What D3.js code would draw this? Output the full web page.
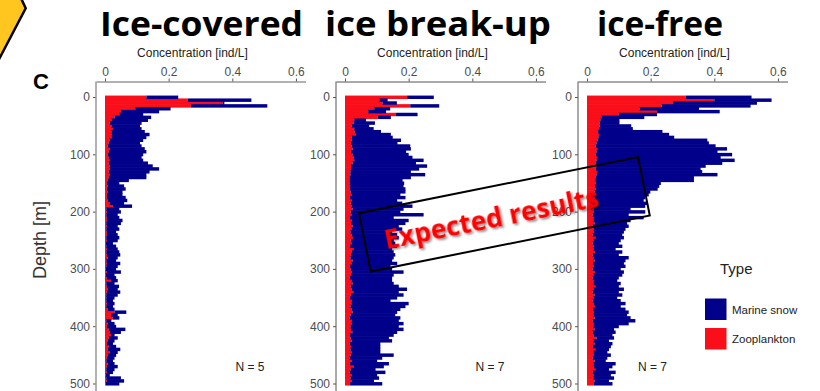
<!DOCTYPE html>
<html><head><meta charset="utf-8">
<script src="https://cdn.jsdelivr.net/npm/d3@7"></script>
<style>body{margin:0;background:#fff}svg{display:block}</style>
</head><body>
<svg id="c" width="820" height="391"></svg>
<script>
// ---- data (depth bins of 5 m, centred at 0..500 m) ----
const depthStep = 5;
const panelTitles = ["Ice-covered", "ice break-up", "ice-free"];
const sampleN = ["N = 5", "N = 7", "N = 7"];
const seriesNames = ["Marine snow", "Zooplankton"];
const xTicks = [0, 0.2, 0.4, 0.6];
const yTicks = [0, 100, 200, 300, 400, 500];

const zooIce = [.13,.26,.37,.27,.095,.05,.045,.03,.02,.015,.02,.025,.02,.022,.02,.014,.012,.009,.014,.012,.009,.012,.014,.012,.014,.014,.012,.014,.012,.009,.006,.009,.006,.009,.006,.006,.009,.014,.025,.004,.006,.004,.006,.006,.004,.006,.004,.006,.006,.004,.006,.002,.004,.006,.004,.006,.008,.004,.006,.004,.002,.006,.002,.006,.019,.004,.006,.009,.006,.004,.004,.004,.006,.004,.009,.03,.019,.025,.004,.009,.006,.012,.014,.019,.012,.009,.006,.012,.009,.014,.009,.006,.004,.009,.006,.004,.006,.002,.004,.006,.002];
const snowIce = [.10,.20,.005,.24,.111,.12,.075,.115,.115,.10,.09,.09,.105,.118,.11,.106,.098,.106,.111,.118,.111,.103,.106,.123,.136,.156,.128,.116,.118,.066,.039,.051,.059,.046,.049,.059,.061,.046,.06,.041,.044,.036,.039,.049,.046,.034,.041,.029,.034,.041,.034,.023,.031,.034,.041,.042,.032,.031,.042,.036,.033,.044,.028,.029,.021,.026,.038,.031,.042,.036,.026,.021,.024,.021,.021,.037,.021,.02,.016,.021,.029,.052,.036,.011,.028,.021,.019,.023,.039,.026,.026,.024,.021,.021,.034,.026,.019,.013,.046,.054,.043];

const zooBreak = [.195,.108,.118,.205,.092,.073,.16,.103,.029,.027,.021,.029,.031,.034,.021,.021,.019,.021,.024,.019,.024,.027,.029,.024,.019,.019,.017,.017,.014,.014,.014,.016,.016,.018,.02,.016,.022,.018,.02,.024,.018,.02,.016,.022,.019,.024,.02,.017,.021,.025,.018,.02,.016,.026,.022,.019,.017,.024,.02,.016,.018,.022,.019,.015,.02,.024,.018,.021,.026,.019,.016,.022,.02,.017,.021,.024,.018,.015,.02,.022,.017,.019,.023,.016,.018,.021,.015,.019,.017,.022,.018,.014,.02,.016,.028,.018,.015,.02,.017,.022,.016];
const snowBreak = [.084,.026,.045,.091,.05,.056,.068,.041,.037,.067,.055,.061,.082,.11,.129,.155,.146,.184,.183,.173,.176,.185,.218,.199,.239,.214,.19,.235,.193,.167,.172,.168,.174,.172,.154,.174,.142,.162,.192,.16,.156,.227,.137,.178,.171,.145,.16,.131,.143,.144,.135,.138,.148,.122,.131,.139,.136,.124,.144,.127,.13,.162,.134,.133,.128,.129,.151,.174,.143,.165,.148,.121,.18,.173,.153,.14,.14,.159,.149,.162,.152,.165,.141,.137,.12,.127,.096,.092,.094,.089,.135,.103,.081,.122,.094,.078,.112,.081,.09,.069,.101];

const zooFree = [.31,.40,.27,.235,.165,.22,.1,.045,.042,.04,.04,.038,.035,.038,.036,.034,.03,.028,.032,.03,.028,.032,.03,.028,.03,.028,.032,.03,.028,.026,.028,.025,.028,.024,.022,.025,.022,.02,.018,.022,.02,.018,.022,.02,.024,.018,.02,.022,.018,.026,.02,.018,.022,.02,.025,.018,.02,.024,.019,.022,.018,.025,.02,.018,.022,.02,.026,.02,.018,.024,.02,.018,.022,.025,.019,.022,.02,.024,.018,.022,.02,.024,.018,.022,.03,.02,.024,.018,.026,.02,.022,.018,.024,.02,.022,.026,.018,.022,.02,.024,.022];
const snowFree = [.207,.18,.264,.279,.187,.197,.12,.135,.06,.062,.099,.106,.202,.22,.238,.344,.353,.376,.408,.38,.428,.388,.434,.397,.343,.329,.33,.38,.308,.31,.204,.202,.194,.175,.172,.158,.156,.169,.165,.115,.163,.113,.156,.117,.102,.113,.101,.094,.093,.09,.086,.082,.089,.07,.086,.082,.111,.097,.097,.099,.088,.091,.091,.082,.073,.086,.074,.096,.082,.087,.075,.088,.099,.081,.102,.109,.106,.113,.134,.109,.08,.061,.072,.058,.055,.049,.056,.057,.043,.044,.053,.046,.035,.07,.058,.043,.072,.053,.065,.045,.058];

const zooSeries = [zooIce, zooBreak, zooFree];
const snowSeries = [snowIce, snowBreak, snowFree];

// ---- layout ----
const colSnow = "#00008B", colZoo = "#F90E1A";
const panelLeft = [96, 336, 578];
const titleCx = [201.5, 438, 660], titleW = [203, 226, 126];
const nLabelAt = [0.41, 0.41, 0.16];
const axisTop = 81.5, axisBottom = 391;
const svg = d3.select("#c");
const font = "'Liberation Sans', Arial, sans-serif";

const y = d3.scaleLinear().domain([0, 500]).range([97, 383.5]);

// drop shadow filter
const defs = svg.append("defs");
const f = defs.append("filter").attr("id","sh").attr("x","-10%").attr("y","-30%").attr("width","130%").attr("height","160%");
f.append("feDropShadow").attr("dx",1.5).attr("dy",2).attr("stdDeviation",1.2).attr("flood-color","#000").attr("flood-opacity",0.45);

// yellow corner shape
svg.append("polygon").attr("points","-4,-4 20,-4 25.7,8.3 -4,65")
  .attr("fill","#FFC620").attr("stroke","#000").attr("stroke-width",2.5);

// panel label
svg.append("text").attr("x",33).attr("y",89).text("C")
  .attr("font-family",font).attr("font-weight","bold").attr("font-size",22).attr("fill","#000");

// titles
panelTitles.forEach((t,i)=>{
  svg.append("text").attr("x",titleCx[i]).attr("y",36).attr("text-anchor","middle").text(t)
    .attr("font-family","'Open Sans', sans-serif").attr("font-weight","bold").attr("font-size",33.5)
    .attr("textLength",titleW[i]).attr("lengthAdjust","spacingAndGlyphs").attr("fill","#000");
});

// y label
svg.append("text").attr("transform","translate(46,240) rotate(-90)").attr("text-anchor","middle")
  .text("Depth [m]").attr("font-family",font).attr("font-size",18).attr("fill","#333");

panelTitles.forEach((t,i)=>{
  const L = panelLeft[i];
  const x = d3.scaleLinear().domain([-0.0283, 0.63]).range([L, L + 209.5]);
  const g = svg.append("g");
  const rows = zooSeries[i].map((z,k)=>({depth:k*depthStep, zoo:z, snow:snowSeries[i][k]}));
  const stack = d3.stack().keys(["zoo","snow"])(rows);
  const cols = [colZoo, colSnow];
  stack.forEach((layer,li)=>{
    g.append("g").attr("fill",cols[li]).selectAll("rect").data(layer).join("rect")
      .attr("x",d=>x(d[0])).attr("width",d=>Math.max(0,x(d[1])-x(d[0])))
      .attr("y",d=>y(d.data.depth - depthStep/2))
      .attr("height",d=>y(d.data.depth + depthStep/2)-y(d.data.depth - depthStep/2) + 0.6);
  });
  // top axis
  const ax = g.append("g").attr("transform",`translate(0,${axisTop})`)
    .call(d3.axisTop(x).tickValues(xTicks).tickSize(3).tickSizeOuter(0)
      .tickFormat(d=> d===0 ? "0" : d3.format(".1f")(d)));
  ax.select(".domain").attr("stroke", i===0?"#999":"#555").attr("stroke-width", i===0?1.5:1);
  ax.selectAll(".tick line").attr("stroke","#555");
  ax.selectAll(".tick text").attr("font-family",font).attr("font-size",12).attr("fill","#4d4d4d");
  // left axis
  const ay = g.append("g").attr("transform",`translate(${L},0)`)
    .call(d3.axisLeft(y).tickValues(yTicks).tickSize(3));
  ay.select(".domain").remove();
  ay.selectAll(".tick line").attr("stroke","#555");
  ay.selectAll(".tick text").attr("font-family",font).attr("font-size",12).attr("fill","#4d4d4d");
  g.append("line").attr("x1",L).attr("x2",L).attr("y1",axisTop).attr("y2",axisBottom)
    .attr("stroke", i===0?"#999":"#555").attr("stroke-width", i===0?1.5:1);
  // axis title
  g.append("text").attr("x",x(0.3)-8).attr("y",57).attr("text-anchor","middle")
    .text("Concentration [ind/L]").attr("font-family",font).attr("font-size",12).attr("fill","#222");
  // N label
  g.append("text").attr("x",x(nLabelAt[i])).attr("y",371).text(sampleN[i])
    .attr("font-family",font).attr("font-size",12).attr("fill","#222");
});

// legend
const lg = svg.append("g");
lg.append("text").attr("x",720).attr("y",274).text("Type").attr("font-family",font).attr("font-size",15).attr("fill","#222");
[colSnow, colZoo].forEach((c,i)=>{
  lg.append("rect").attr("x",705).attr("y",298.5+i*29.5).attr("width",21.5).attr("height",21.5).attr("fill",c);
  lg.append("text").attr("x",732).attr("y",313.5+i*29.5).text(seriesNames[i])
    .attr("font-family",font).attr("font-size",11.5).attr("fill","#222");
});

// expected results stamp
const st = svg.append("g").attr("transform","translate(504.4,214.3) rotate(-11.35)");
st.append("rect").attr("x",-142.3).attr("y",-29.75).attr("width",284.6).attr("height",59.5)
  .attr("fill","none").attr("stroke","#000").attr("stroke-width",2);
st.append("text").attr("x",-13.5).attr("y",11).attr("text-anchor","middle").text("Expected results")
  .attr("font-family","'Open Sans', sans-serif").attr("font-weight","bold").attr("font-size",26)
  .attr("textLength",218).attr("lengthAdjust","spacingAndGlyphs")
  .attr("fill","#FF0000").attr("filter","url(#sh)");
</script>
</body></html>
